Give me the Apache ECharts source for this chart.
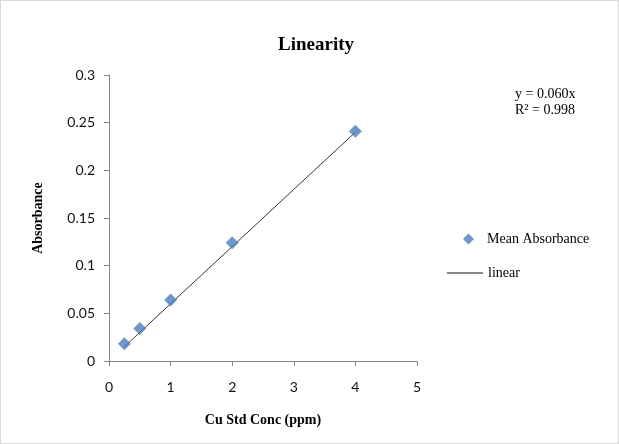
<!DOCTYPE html>
<html>
<head>
<meta charset="utf-8">
<script src="https://cdn.jsdelivr.net/npm/echarts@6/dist/echarts.min.js"></script>
<style>
  html, body { margin: 0; padding: 0; background: #fff; }
  #chart { width: 617px; height: 442px; border: 1px solid #d9d9d9; }
</style>
</head>
<body>
<div id="chart"></div>
<script>
// standards (ppm) and mean absorbance
const conc = [0.25, 0.5, 1, 2, 4];
const absorbance = [0.018, 0.034, 0.064, 0.124, 0.241];
// trendline through origin, y = 0.060x, drawn over the data range
const fitX = [0.25, 4];
const fitY = [0.015, 0.24];

const serif = '"Liberation Serif", "Times New Roman", serif';
const sans = 'Lato, "Open Sans", sans-serif';
const legendText = { fontFamily: serif, fontSize: 14, color: '#000', padding: [0, 0, 0, 8] };

const chart = echarts.init(document.getElementById('chart'));

chart.setOption({
  animation: false,
  title: {
    text: 'Linearity',
    left: 310,
    textAlign: 'center',
    top: 30,
    textStyle: { fontFamily: serif, fontSize: 19, fontWeight: 'bold', color: '#000' }
  },
  grid: { left: 108, right: 201, top: 74, bottom: 82 },
  legend: [
    {
      left: 457,
      top: 226,
      icon: 'diamond',
      itemWidth: 11,
      itemHeight: 11,
      textStyle: legendText,
      data: ['Mean Absorbance']
    },
    {
      left: 441,
      top: 260,
      icon: 'rect',
      itemWidth: 36,
      itemHeight: 1,
      itemStyle: { color: '#111' },
      textStyle: Object.assign({}, legendText, { padding: [0, 0, 0, 0] }),
      data: ['linear']
    }
  ],
  xAxis: {
    type: 'value',
    min: 0, max: 5, interval: 1,
    name: 'Cu Std Conc (ppm)',
    nameLocation: 'middle',
    nameGap: 52,
    nameTextStyle: { fontFamily: serif, fontSize: 14, fontWeight: 'bold', color: '#000' },
    axisLine: { show: true, onZero: false, lineStyle: { color: '#868686' } },
    axisTick: { show: true, length: 5, lineStyle: { color: '#868686' } },
    axisLabel: { fontFamily: sans, fontSize: 14, color: '#111', margin: 19 },
    splitLine: { show: false }
  },
  yAxis: {
    type: 'value',
    min: 0, max: 0.3, interval: 0.05,
    name: 'Absorbance',
    nameLocation: 'middle',
    nameGap: 64,
    nameTextStyle: { fontFamily: serif, fontSize: 14, fontWeight: 'bold', color: '#000' },
    axisLine: { show: true, lineStyle: { color: '#868686' } },
    axisTick: { show: true, length: 5, lineStyle: { color: '#868686' } },
    axisLabel: { fontFamily: sans, fontSize: 14, color: '#111', margin: 14 },
    splitLine: { show: false }
  },
  graphic: [{
    type: 'text',
    left: 514,
    top: 85,
    style: {
      text: 'y = 0.060x\nR² = 0.998',
      font: '14px ' + serif,
      lineHeight: 16,
      fill: '#000'
    }
  }],
  series: [
    {
      name: 'Mean Absorbance',
      type: 'scatter',
      symbol: 'diamond',
      symbolSize: 13,
      itemStyle: { color: '#4A7EBB' },
      data: conc.map((x, i) => [x, absorbance[i]]),
      z: 3
    },
    {
      name: 'linear',
      type: 'line',
      symbol: 'none',
      lineStyle: { color: '#333', width: 1 },
      data: fitX.map((x, i) => [x, fitY[i]]),
      z: 2
    }
  ]
});
</script>
</body>
</html>
